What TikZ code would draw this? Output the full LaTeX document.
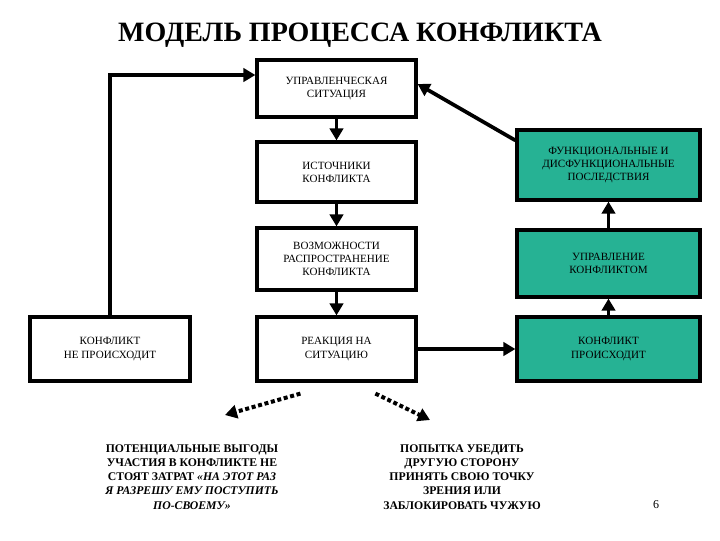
\documentclass[tikz,border=0pt]{standalone}
\usepackage{fontspec}
\setmainfont{Liberation Serif}
\usetikzlibrary{arrows.meta}
\definecolor{grn}{RGB}{38,178,148}
\begin{document}
\begin{tikzpicture}[x=0.75pt,y=-0.75pt,
 box/.style={draw=black,line width=2.4pt,minimum width=159*0.75pt,align=center,font=\fontsize{8.3}{9.8}\selectfont,inner sep=1pt},
 gbox/.style={box,fill=grn,minimum width=183*0.75pt},
 arr/.style={line width=2.8pt,-{Triangle[length=9pt,width=10pt]}},
 dar/.style={line width=3pt,dotted,-{Triangle[length=9pt,width=10pt]}},
 txt/.style={align=center,font=\bfseries\fontsize{8.8}{10.6}\selectfont}]
\useasboundingbox (0,0) rectangle (720,540);
\node[font=\bfseries\fontsize{21}{24}\selectfont] (title) at (360,35) {МОДЕЛЬ ПРОЦЕССА КОНФЛИКТА};
\node[box,minimum height=57*0.75pt] (us) at (336.5,88.5) {УПРАВЛЕНЧЕСКАЯ\\СИТУАЦИЯ};
\node[box,minimum height=60*0.75pt] (ist) at (336.5,172) {ИСТОЧНИКИ\\КОНФЛИКТА};
\node[box,minimum height=62*0.75pt] (voz) at (336.5,259) {ВОЗМОЖНОСТИ\\РАСПРОСТРАНЕНИЕ\\КОНФЛИКТА};
\node[box,minimum height=64*0.75pt] (rea) at (336.5,349) {РЕАКЦИЯ НА\\СИТУАЦИЮ};
\node[box,minimum height=64*0.75pt,minimum width=160*0.75pt] (net) at (110,349) {КОНФЛИКТ\\НЕ ПРОИСХОДИТ};
\node[gbox,minimum height=70*0.75pt] (fun) at (608.5,165) {ФУНКЦИОНАЛЬНЫЕ И\\ДИСФУНКЦИОНАЛЬНЫЕ\\ПОСЛЕДСТВИЯ};
\node[gbox,minimum height=67*0.75pt] (upr) at (608.5,263.5) {УПРАВЛЕНИЕ\\КОНФЛИКТОМ};
\node[gbox,minimum height=64*0.75pt] (est) at (608.5,349) {КОНФЛИКТ\\ПРОИСХОДИТ};
\draw[arr] (us) -- (ist);
\draw[arr] (ist) -- (voz);
\draw[arr] (voz) -- (rea);
\draw[arr] (rea) -- (est);
\draw[arr] (est) -- (upr);
\draw[arr] (upr) -- (fun);
\draw[arr] (fun.north west) ++(0,12) coordinate (f1) (f1) -- (us.east |- 0,84);
\draw[arr] (net.north) |- (us.west |- 0,75);
\coordinate (d1) at (225,415); \coordinate (d2) at (430,420);
\draw[dar] (rea.south west) ++(45,11) -- (d1);
\draw[dar] (rea.south west) ++(120,11) -- (d2);
\node[txt] (t1) at (192,477) {ПОТЕНЦИАЛЬНЫЕ ВЫГОДЫ\\УЧАСТИЯ В КОНФЛИКТЕ НЕ\\СТОЯТ ЗАТРАТ \textit{«НА ЭТОТ РАЗ}\\\textit{Я РАЗРЕШУ ЕМУ ПОСТУПИТЬ}\\\textit{ПО-СВОЕМУ»}};
\node[txt] (t2) at (462,477) {ПОПЫТКА УБЕДИТЬ\\ДРУГУЮ СТОРОНУ\\ПРИНЯТЬ СВОЮ ТОЧКУ\\ЗРЕНИЯ ИЛИ\\ЗАБЛОКИРОВАТЬ ЧУЖУЮ};
\node[font=\fontsize{9}{10}\selectfont] (pg) at (656,505) {6};
\end{tikzpicture}
\end{document}
